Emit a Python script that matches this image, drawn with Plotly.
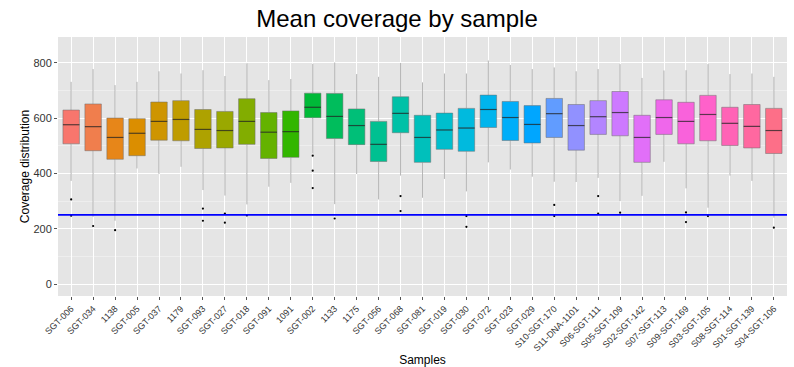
import math
import plotly.graph_objects as go

samples = ["SGT-006", "SGT-034", "1138", "SGT-005", "SGT-037", "1179", "SGT-093", "SGT-027",
           "SGT-018", "SGT-091", "1091", "SGT-002", "1133", "1175", "SGT-056", "SGT-068",
           "SGT-081", "SGT-019", "SGT-030", "SGT-072", "SGT-023", "SGT-029", "S10-SGT-170",
           "S11-DNA-1101", "S06-SGT-111", "S05-SGT-109", "S02-SGT-142", "S07-SGT-113",
           "S09-SGT-169", "S03-SGT-105", "S08-SGT-114", "S01-SGT-139", "S04-SGT-106"]

upper_whisker = [731, 777, 719, 731, 769, 761, 773, 752, 798, 737, 741, 796, 801, 759, 749, 799,
                 729, 761, 761, 808, 792, 777, 783, 769, 777, 795, 745, 772, 773, 795, 759, 761, 749]
q3 = [629, 651, 600, 598, 658, 663, 631, 624, 670, 620, 626, 690, 689, 633, 588, 677,
      610, 618, 635, 683, 660, 645, 671, 649, 663, 696, 610, 666, 657, 682, 639, 649, 635]
medians = [576, 569, 530, 545, 588, 595, 559, 555, 588, 549, 551, 639, 606, 573, 505, 617,
           530, 557, 564, 631, 602, 577, 616, 573, 605, 620, 530, 602, 588, 613, 581, 570, 555]
q1 = [507, 482, 451, 464, 520, 518, 490, 492, 505, 454, 458, 601, 526, 504, 443, 547,
      440, 487, 480, 566, 519, 510, 530, 484, 541, 536, 440, 541, 507, 518, 501, 492, 472]
lower_whisker = [373, 243, 229, 418, 398, 424, 340, 320, 288, 352, 366, 472, 289, 398, 306, 392,
                 312, 380, 335, 440, 414, 388, 370, 369, 384, 300, 319, 442, 346, 276, 392, 373, 240]

outlier_sample = ["SGT-006", "SGT-006", "SGT-034", "1138", "SGT-093", "SGT-093", "SGT-027",
                  "SGT-027", "SGT-018", "SGT-002", "SGT-002", "SGT-002", "1133", "SGT-068",
                  "SGT-068", "SGT-030", "SGT-030", "S10-SGT-170", "S10-SGT-170", "S06-SGT-111",
                  "S06-SGT-111", "S05-SGT-109", "S09-SGT-169", "S09-SGT-169", "S03-SGT-105",
                  "S04-SGT-106"]
outlier_value = [306, 247, 210, 195, 273, 229, 255, 222, 248, 464, 410, 347, 237, 318,
                 264, 246, 207, 286, 246, 318, 255, 258, 259, 224, 246, 204]

threshold = 250
y_ticks = [0, 200, 400, 600, 800]


def hue_colors(n, h0=15, c=100, l=65):
    wx, wy, wz = 95.047, 100.0, 108.883
    un = 4 * wx / (wx + 15 * wy + 3 * wz)
    vn = 9 * wy / (wx + 15 * wy + 3 * wz)
    out = []
    for i in range(n):
        h = math.radians(h0 + 360.0 * i / n)
        U, V = c * math.cos(h), c * math.sin(h)
        Y = wy * ((l + 16) / 116) ** 3
        up = U / (13 * l) + un
        vp = V / (13 * l) + vn
        X = 9.0 * Y * up / (4 * vp)
        Z = -X / 3 - 5 * Y + 3 * Y / vp
        X, Y, Z = X / 100, Y / 100, Z / 100
        rgb = [3.240479 * X - 1.537150 * Y - 0.498535 * Z,
               -0.969256 * X + 1.875992 * Y + 0.041556 * Z,
               0.055648 * X - 0.204043 * Y + 1.057311 * Z]
        res = []
        for v in rgb:
            v = 1.055 * v ** (1 / 2.4) - 0.055 if v > 0.00304 else 12.92 * v
            res.append(int(round(min(max(v, 0), 1) * 255)))
        out.append("#%02X%02X%02X" % tuple(res))
    return out


colors = hue_colors(len(samples))
pos = {s: i + 1 for i, s in enumerate(samples)}
BW = 0.75

fig = go.Figure()
for i, s in enumerate(samples):
    fig.add_trace(go.Box(
        x=[pos[s]], q1=[q1[i]], median=[medians[i]], q3=[q3[i]],
        lowerfence=[lower_whisker[i]], upperfence=[upper_whisker[i]],
        width=BW, whiskerwidth=0, fillcolor=colors[i],
        line=dict(color="rgba(110,110,110,0.5)", width=1),
        boxpoints=False, showlegend=False, hoverinfo="skip"))

mx, my = [], []
for i, s in enumerate(samples):
    mx += [pos[s] - BW / 2, pos[s] + BW / 2, None]
    my += [medians[i], medians[i], None]
fig.add_trace(go.Scatter(x=mx, y=my, mode="lines",
                         line=dict(color="rgba(0,0,0,0.5)", width=1.2),
                         showlegend=False, hoverinfo="skip"))

fig.add_trace(go.Scatter(x=[pos[s] for s in outlier_sample], y=outlier_value, mode="markers",
                         marker=dict(color="black", size=2.2), showlegend=False, hoverinfo="skip"))

fig.add_hline(y=threshold, line=dict(color="#0000FF", width=1.6))

fig.update_layout(
    width=794, height=367,
    margin=dict(l=58, r=7, t=37, b=71),
    paper_bgcolor="white", plot_bgcolor="#E5E5E5",
    font=dict(family="Liberation Sans, Arial, sans-serif", color="black"),
    title=dict(text="Mean coverage by sample", x=0.5, xref="container", xanchor="center",
               y=1 - 19 / 367, yref="container", yanchor="middle",
               font=dict(size=24, color="black")),
)
fig.update_xaxes(
    range=[0.4, len(samples) + 0.6], tickmode="array", automargin=False,
    tickvals=[pos[s] for s in samples], ticktext=samples, tickangle=-45,
    tickfont=dict(size=9, color="#333333"), ticks="outside", ticklen=3, tickcolor="#555555",
    showgrid=True, gridcolor="white", gridwidth=1, zeroline=False, showline=False,
    title=dict(text="Samples", font=dict(size=12), standoff=14),
)
fig.update_yaxes(
    range=[-43, 893], tickmode="array", tickvals=y_ticks, automargin=False,
    tickfont=dict(size=11, color="#333333"), ticks="outside", ticklen=3, tickcolor="#555555",
    showgrid=True, gridcolor="white", gridwidth=1, zeroline=False, showline=False,
    minor=dict(dtick=100, showgrid=True, gridcolor="#EEEEEE", gridwidth=0.6),
    title=dict(text="Coverage distribution", font=dict(size=12), standoff=1),
)

fig.write_html("out.html")
